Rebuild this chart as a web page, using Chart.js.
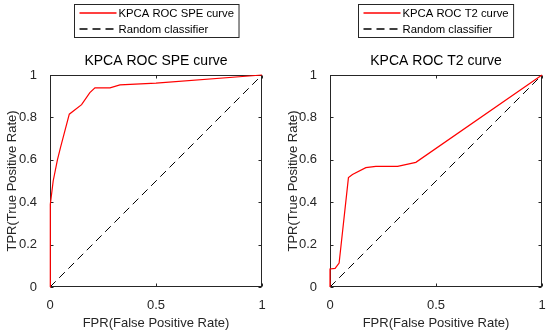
<!DOCTYPE html>
<html>
<head>
<meta charset="utf-8">
<script src="https://cdn.jsdelivr.net/npm/chart.js@4.4.1/dist/chart.umd.min.js"></script>
<style>
body { margin: 0; background: #fff; }
#wrap { position: relative; width: 550px; height: 333px; }
canvas { position: absolute; top: 0; }
</style>
</head>
<body>
<div id="wrap">
  <canvas id="spe" width="275" height="333" style="left:0"></canvas>
  <canvas id="t2" width="275" height="333" style="left:275px"></canvas>
</div>
<script>
// ROC points
var speFpr = [0, 0, 0.003, 0.015, 0.035, 0.05, 0.091, 0.149, 0.188, 0.212, 0.283, 0.33, 0.5, 1];
var speTpr = [0, 0.36, 0.39, 0.5, 0.6, 0.66, 0.815, 0.86, 0.917, 0.939, 0.939, 0.953, 0.962, 1];

var t2Fpr = [0, 0, 0.024, 0.043, 0.087, 0.106, 0.169, 0.216, 0.319, 0.405, 1];
var t2Tpr = [0, 0.085, 0.088, 0.113, 0.516, 0.531, 0.563, 0.569, 0.569, 0.588, 1];

var diagFpr = [0, 1];
var diagTpr = [0, 1];

var axisColor = '#262626';
var fontFam = '"Liberation Sans", Arial, sans-serif';

function pts(xs, ys) {
	var out = [];
	for (var i = 0; i < xs.length; i++) out.push({x: xs[i], y: ys[i]});
	return out;
}

function fmt(v) {
	return String(Math.round(v * 10) / 10);
}

// box around the axes with inward ticks, title and legend like matlab
var boxPlugin = {
	id: 'box',
	beforeDatasetsDraw: function(chart) {
		var ctx = chart.ctx, a = chart.chartArea;
		var xs = chart.scales.x, ys = chart.scales.y;
		var L = Math.round(a.left) + 0.5, R = Math.round(a.right) - 0.5;
		var T = Math.round(a.top) + 0.5, B = Math.round(a.bottom) - 0.5;
		ctx.save();
		ctx.strokeStyle = axisColor;
		ctx.lineWidth = 1;
		ctx.strokeRect(L, T, R - L, B - T);
		ctx.beginPath();
		xs.ticks.forEach(function(t) {
			var p = Math.round(xs.getPixelForValue(t.value)) + 0.5;
			ctx.moveTo(p, B); ctx.lineTo(p, B - 3);
			ctx.moveTo(p, T); ctx.lineTo(p, T + 3);
		});
		ys.ticks.forEach(function(t) {
			var p = Math.round(ys.getPixelForValue(t.value)) + 0.5;
			ctx.moveTo(L, p); ctx.lineTo(L + 3, p);
			ctx.moveTo(R, p); ctx.lineTo(R - 3, p);
		});
		ctx.stroke();
		ctx.restore();
	},
	afterDraw: function(chart) {
		var ctx = chart.ctx, a = chart.chartArea;
		var ds = chart.data.datasets;
		var cx = (a.left + a.right) / 2;
		ctx.save();
		// title
		ctx.font = '14px ' + fontFam;
		ctx.fillStyle = '#000';
		ctx.textAlign = 'center';
		ctx.textBaseline = 'middle';
		ctx.fillText(chart.options.plotTitle, cx, 61);
		// legend
		ctx.textAlign = 'left';
		ctx.font = '11.3px ' + fontFam;
		var tw = 0;
		ds.forEach(function(d) { tw = Math.max(tw, ctx.measureText(d.label).width); });
		var w = 5 + 37 + 2 + tw + 5;
		var left = Math.round(cx - w / 2) + 0.5;
		var top = 4.5, h = 33;
		ctx.fillStyle = '#fff';
		ctx.fillRect(left, top, w, h);
		ctx.strokeStyle = axisColor;
		ctx.lineWidth = 1;
		ctx.strokeRect(left, top, w, h);
		var rows = [13, 29];
		ds.forEach(function(d, i) {
			ctx.beginPath();
			ctx.strokeStyle = d.borderColor;
			ctx.lineWidth = 1.3;
			ctx.setLineDash(d.borderDash || []);
			ctx.moveTo(left + 5, rows[i]);
			ctx.lineTo(left + 42, rows[i]);
			ctx.stroke();
			ctx.setLineDash([]);
			ctx.fillStyle = '#000';
			ctx.fillText(d.label, left + 44, rows[i] + 1);
		});
		ctx.restore();
	}
};

function makeChart(id, fpr, tpr, label, title, yWidth, rightPad, yTitlePad) {
	return new Chart(document.getElementById(id), {
		type: 'line',
		data: {
			datasets: [
				{
					label: label,
					data: pts(fpr, tpr),
					borderColor: '#ff0000',
					borderWidth: 1.2,
					pointRadius: 0,
					tension: 0,
					clip: false
				},
				{
					label: 'Random classifier',
					data: pts(diagFpr, diagTpr),
					borderColor: '#000000',
					borderWidth: 1,
					borderDash: [8, 5],
					pointRadius: 0,
					tension: 0
				}
			]
		},
		options: {
			plotTitle: title,
			responsive: false,
			animation: false,
			layout: { padding: { top: 75, right: rightPad, left: 0, bottom: 0 } },
			plugins: {
				legend: { display: false },
				tooltip: { enabled: false }
			},
			scales: {
				x: {
					type: 'linear',
					min: 0, max: 1,
					grid: { display: false },
					border: { display: false },
					ticks: {
						stepSize: 0.5,
						color: axisColor,
						padding: 3,
						callback: fmt,
						font: { family: fontFam, size: 13 }
					},
					title: {
						display: true,
						text: 'FPR(False Positive Rate)',
						color: axisColor,
						font: { family: fontFam, size: 13 },
						padding: { top: 0, bottom: 1.5 }
					},
					afterFit: function(s) { s.height = 46; }
				},
				y: {
					type: 'linear',
					min: 0, max: 1,
					grid: { display: false },
					border: { display: false },
					ticks: {
						stepSize: 0.2,
						color: axisColor,
						padding: 5,
						callback: fmt,
						font: { family: fontFam, size: 13 }
					},
					title: {
						display: true,
						text: 'TPR(True Positive Rate)',
						color: axisColor,
						font: { family: fontFam, size: 13 },
						padding: { top: yTitlePad, bottom: 0 }
					},
					afterFit: function(s) { s.width = yWidth; }
				}
			}
		},
		plugins: [boxPlugin]
	});
}

makeChart('spe', speFpr, speTpr, 'KPCA ROC SPE curve', 'KPCA ROC SPE curve', 50, 13, 4.7);
makeChart('t2', t2Fpr, t2Tpr, 'KPCA ROC T2 curve', 'KPCA ROC T2 curve', 55, 8, 10.2);
</script>
</body>
</html>
